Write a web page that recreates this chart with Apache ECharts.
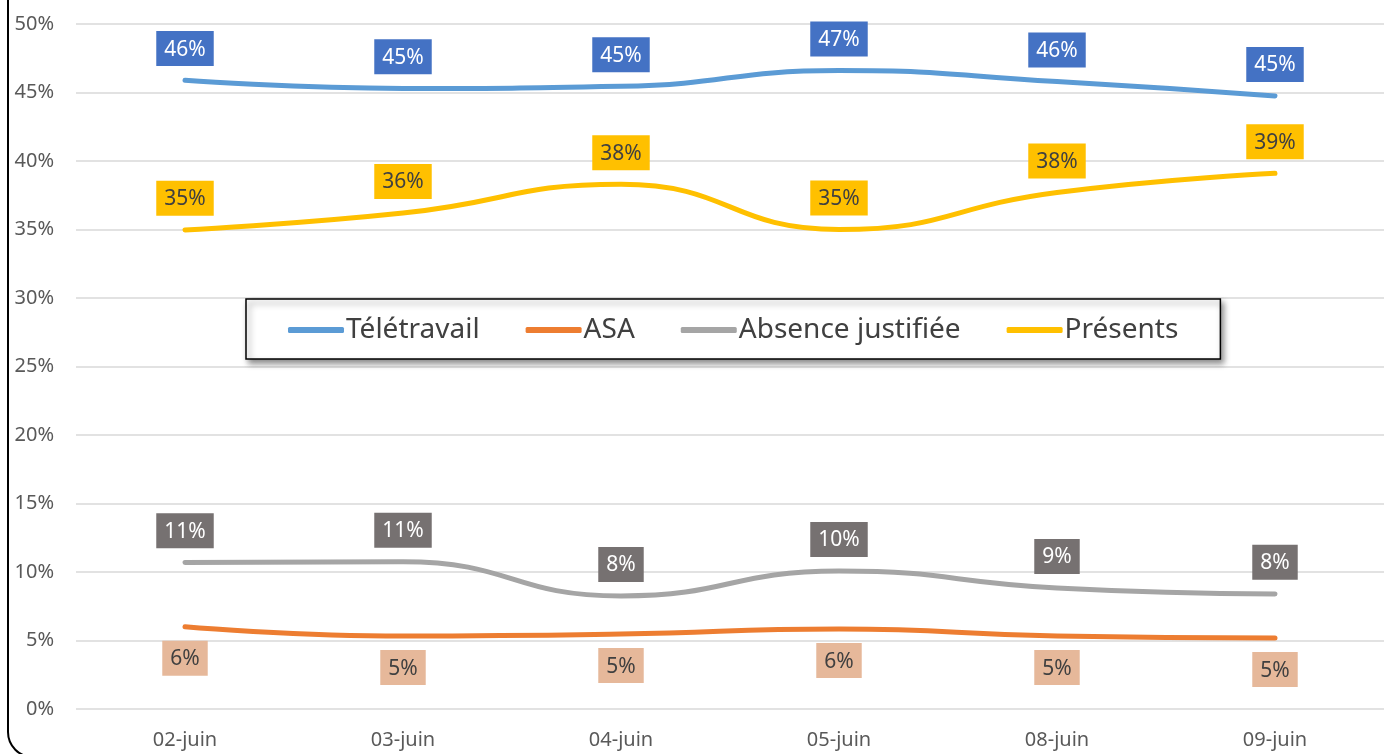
<!DOCTYPE html>
<html>
<head>
<meta charset="utf-8">
<script src="https://cdn.jsdelivr.net/npm/echarts@6/dist/echarts.min.js"></script>
<style>
  html, body { margin: 0; padding: 0; background: #fff; }
  #chart { width: 1392px; height: 754px; }
</style>
</head>
<body>
<div id="chart"></div>
<script>
// données (en %)
const days = ['02-juin', '03-juin', '04-juin', '05-juin', '08-juin', '09-juin']
const teletravail = [45.9, 45.3, 45.45, 46.6, 45.8, 44.75]
const asa = [6.0, 5.33, 5.47, 5.84, 5.33, 5.18]
const absence = [10.7, 10.75, 8.25, 10.07, 8.83, 8.4]
const presents = [34.97, 36.2, 38.3, 35.0, 37.7, 39.1]

const FONT = 'Noto Sans'

function makeSeries(name, data, lineColor, labelBg, labelColor, pos) {
  return {
    name: name,
    type: 'line',
    data: data,
    smooth: 0.5,
    symbol: 'circle',
    symbolSize: 0.1,
    itemStyle: { color: lineColor },
    lineStyle: { color: lineColor, width: 5, cap: 'round' },
    label: {
      show: true,
      position: pos,
      distance: 14,
      formatter: p => Math.round(p.value) + '%',
      fontFamily: FONT,
      fontSize: 21,
      color: labelColor,
      backgroundColor: labelBg,
      padding: [8, 8, 6, 8]
    },
    emphasis: { disabled: true }
  }
}

const chart = echarts.init(document.getElementById('chart'))
chart.setOption({
  animation: false,
  grid: { left: 76, right: 8, top: 24, bottom: 45 },
  legend: {
    left: 246,
    top: 299,
    padding: [17, 42, 15, 42],
    itemWidth: 56,
    itemHeight: 6,
    itemGap: 46,
    icon: 'roundRect',
    backgroundColor: '#fff',
    borderColor: '#000',
    borderWidth: 1.5,
    shadowBlur: 6,
    shadowOffsetX: 3,
    shadowOffsetY: 4,
    shadowColor: 'rgba(0,0,0,0.45)',
    textStyle: { fontFamily: FONT, fontSize: 28, color: '#404040', padding: [0, 0, 0, -3] }
  },
  xAxis: {
    type: 'category',
    data: days,
    axisLine: { show: false },
    axisTick: { show: false },
    axisLabel: { fontFamily: FONT, fontSize: 20, color: '#595959', margin: 21 }
  },
  yAxis: {
    type: 'value',
    min: 0,
    max: 50,
    interval: 5,
    axisLabel: { fontFamily: FONT, fontSize: 20, color: '#595959', margin: 22, formatter: '{value}%' },
    splitLine: { lineStyle: { color: '#d9d9d9', width: 1.5 } }
  },
  graphic: [{
    type: 'rect',
    shape: { x: 8, y: -40, width: 1430, height: 797, r: 25 },
    style: { fill: 'none', stroke: '#000', lineWidth: 2 },
    silent: true
  }],
  series: [
    makeSeries('Télétravail', teletravail, '#5b9bd5', '#4472c4', '#fff', 'top'),
    makeSeries('ASA', asa, '#ed7d31', '#e6b89a', '#404040', 'bottom'),
    makeSeries('Absence justifiée', absence, '#a5a5a5', '#767171', '#fff', 'top'),
    makeSeries('Présents', presents, '#ffc000', '#ffc000', '#404040', 'top')
  ]
})
</script>
</body>
</html>
